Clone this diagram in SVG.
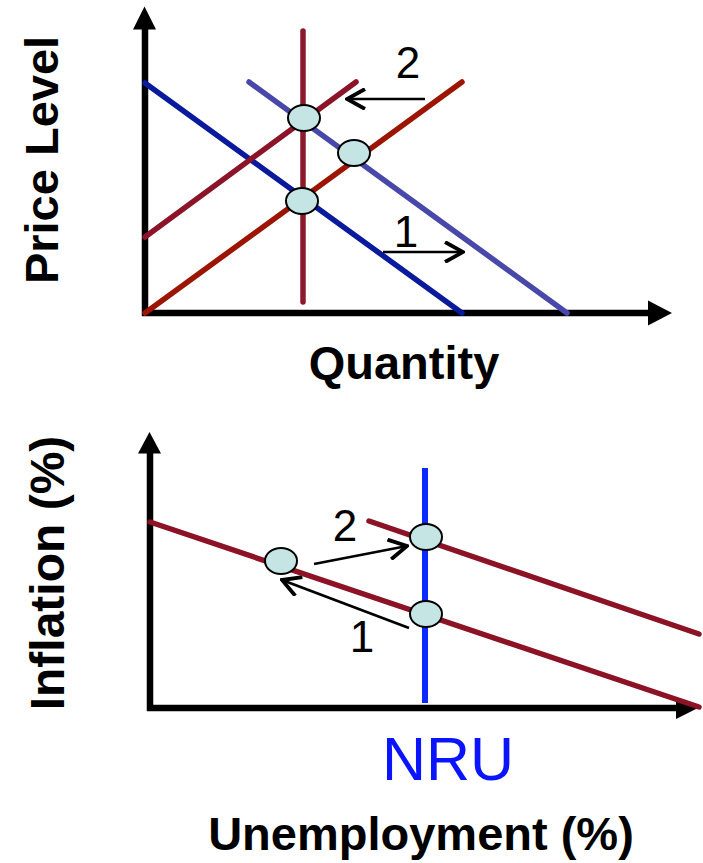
<svg xmlns="http://www.w3.org/2000/svg" width="703" height="863" viewBox="0 0 703 863">
<style>
.axis{stroke:#000;stroke-width:6.5;fill:none}
.ah{fill:#000;stroke:none}
.curve{stroke-width:5.5;fill:none;stroke-linecap:round}
.pt{fill:#c5e5e5;stroke:#000;stroke-width:2}
.lbl{font-family:"Liberation Sans",Arial,sans-serif;font-weight:bold;fill:#000}
.num{font-family:"Liberation Sans",Arial,sans-serif;font-size:44px;fill:#000;text-anchor:middle}
.shift{stroke:#000;stroke-width:2.7;fill:none}
</style>
<defs>
<marker id="chev" viewBox="0 0 22 22" refX="20" refY="11" markerWidth="22" markerHeight="22" markerUnits="userSpaceOnUse" orient="auto">
<path d="M2,1 L20,11 L2,21" fill="none" stroke="#000" stroke-width="3.8"/>
</marker>
</defs>
<rect width="703" height="863" fill="#fff"/>

<!-- Top chart: AD/AS -->
<g id="top-axes">
<line class="axis" x1="145" y1="24" x2="145" y2="316"/>
<line class="axis" x1="142" y1="313" x2="652" y2="313"/>
<polygon class="ah" points="133,29.5 144.5,6.5 156,29.5"/>
<polygon class="ah" points="648,300.5 672,313 648,325.5"/>
</g>
<g id="lras"><line class="curve" x1="303" y1="31" x2="303" y2="302" stroke="#8b1a2a" stroke-linecap="butt"/></g>
<g id="ad1"><line class="curve" x1="145" y1="83" x2="462" y2="313" stroke="#0a1a9c"/></g>
<g id="ad2"><line class="curve" x1="249" y1="82" x2="567" y2="313" stroke="#4848aa"/></g>
<g id="sras2"><line class="curve" x1="145" y1="237" x2="356" y2="82" stroke="#8b1428"/></g>
<g id="sras1"><line class="curve" x1="145" y1="313" x2="462" y2="82" stroke="#9b1500"/></g>
<g id="top-points">
<ellipse class="pt" cx="304" cy="118" rx="16" ry="13"/>
<ellipse class="pt" cx="354" cy="153" rx="16" ry="13"/>
<ellipse class="pt" cx="302" cy="201" rx="16" ry="13"/>
</g>
<g id="top-shifts">
<line class="shift" x1="425" y1="99" x2="347" y2="99" marker-end="url(#chev)"/>
<line class="shift" x1="383" y1="252" x2="463" y2="252" marker-end="url(#chev)"/>
<text class="num" x="408" y="78">2</text>
<text class="num" x="406" y="247">1</text>
</g>
<g id="top-labels">
<text class="lbl" font-size="47" x="404" y="379" text-anchor="middle">Quantity</text>
<text class="lbl" font-size="47" text-anchor="middle" transform="translate(58,160) rotate(-90)">Price Level</text>
</g>

<!-- Bottom chart: Phillips curve -->
<g id="bottom-axes">
<line class="axis" x1="150" y1="448" x2="150" y2="711"/>
<line class="axis" x1="147" y1="708" x2="680" y2="708"/>
<polygon class="ah" points="138,453.5 149.5,432 161,453.5"/>
<polygon class="ah" points="676,697 698,708 676,719"/>
</g>
<g id="nru"><line x1="425" y1="468" x2="425" y2="703" stroke="#0a2aff" stroke-width="6"/></g>
<g id="srpc1"><line class="curve" x1="150" y1="522" x2="699" y2="707" stroke="#8b1325"/></g>
<g id="srpc2"><line class="curve" x1="369" y1="521" x2="699" y2="634" stroke="#8b1325"/></g>
<g id="bottom-points">
<ellipse class="pt" cx="281" cy="561" rx="16" ry="13"/>
<ellipse class="pt" cx="426" cy="537" rx="16" ry="13"/>
<ellipse class="pt" cx="426" cy="614" rx="16" ry="13"/>
</g>
<g id="bottom-shifts">
<line class="shift" x1="314" y1="564" x2="407" y2="546" marker-end="url(#chev)"/>
<line class="shift" x1="409" y1="628" x2="282" y2="580" marker-end="url(#chev)"/>
<text class="num" x="345" y="541">2</text>
<text class="num" x="362" y="652">1</text>
</g>
<g id="bottom-labels">
<text x="448" y="780" font-family="'Liberation Sans',Arial,sans-serif" font-size="61" fill="#0a14ff" text-anchor="middle">NRU</text>
<text class="lbl" font-size="47" x="421" y="850" text-anchor="middle">Unemployment (%)</text>
<text class="lbl" font-size="48" text-anchor="middle" transform="translate(64,573) rotate(-90)">Inflation (%)</text>
</g>
</svg>
